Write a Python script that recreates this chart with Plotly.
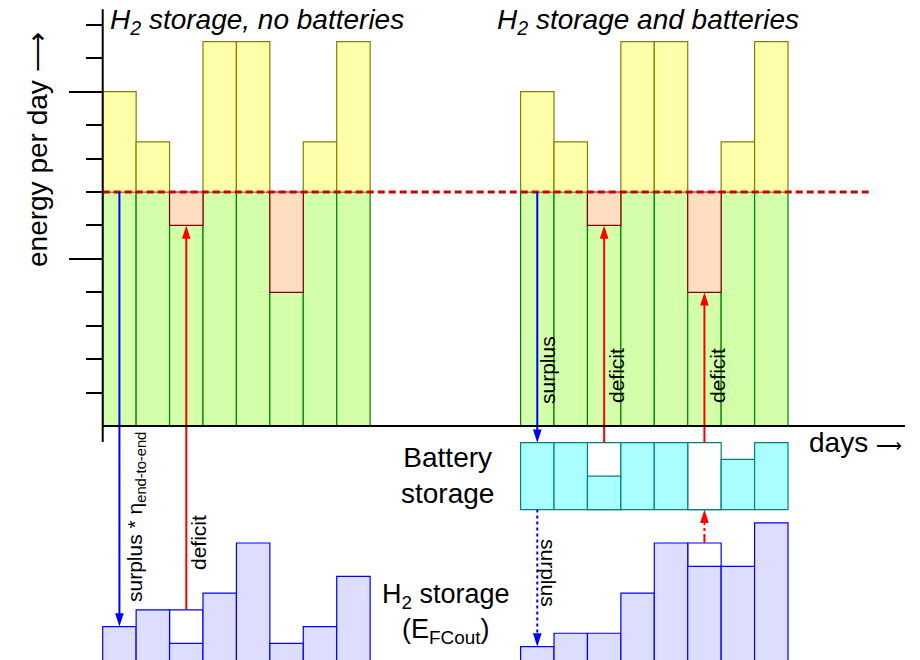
import plotly.graph_objects as go

# ---------------- data ----------------
days = [1, 2, 3, 4, 5, 6, 7, 8]
supply = [10, 8.5, 6, 11.5, 11.5, 4, 8.5, 11.5]          # energy produced per day
demand = 7                                                # energy needed per day
right_offset = 12.5                                       # second scenario starts here (days axis)
battery_top = -0.5
battery_capacity = 2
battery_level = [2, 2, 1, 2, 2, 0, 1.5, 2]
battery_prev = [None, None, 2, None, None, 2, None, None]
h2_floor = -8
h2_no_batt = [2, 2.5, 1.5, 3, 4.5, 1.5, 2, 3.5]
h2_no_batt_prev = [None, None, 2.5, None, None, None, None, None]
h2_batt = [1.4, 1.8, 1.8, 3.0, 4.5, 3.8, 3.8, 5.1]
h2_batt_prev = [None, None, None, None, None, 4.5, None, None]
y_minor_ticks = [1, 2, 3, 4, 6, 7, 8, 9, 11, 12]
y_major_ticks = [5, 10]

# ---------------- geometry / style ----------------
W, H = 920, 660
X0, Y0, U = 102.7, 426.0, 33.43
xr = [-X0 / U, (W - X0) / U]
yr = [-(H - Y0) / U, Y0 / U]
FONT = "Liberation Sans, Arial, sans-serif"

GREEN, GREEN_L = "#D4FFAA", "#008000"
YEL, YEL_L = "#FFFFAA", "#808000"
SAL, SAL_L = "#FFDDC0", "#800000"
CYAN, CYAN_L = "#AAFFFF", "#008080"
LAV, LAV_L = "#DDDDFF", "#0000FF"
RED, BLUE = "#FF0000", "#0000FF"

fig = go.Figure()


def bar(xs, hs, bases, fill, line):
    fig.add_trace(go.Bar(x=xs, y=hs, base=bases, width=1,
                         marker=dict(color=fill, line=dict(color=line, width=1.2)),
                         showlegend=False, hoverinfo="skip"))


def centers(offset):
    return [offset + d - 0.5 for d in days]


for off in (0, right_offset):
    xs = centers(off)
    bar(xs, [min(s, demand) for s in supply], [0] * len(days), GREEN, GREEN_L)
    sx = [x for x, s in zip(xs, supply) if s > demand]
    bar(sx, [s - demand for s in supply if s > demand], [demand] * len(sx), YEL, YEL_L)
    dx = [x for x, s in zip(xs, supply) if s < demand]
    bar(dx, [demand - s for s in supply if s < demand], [s for s in supply if s < demand], SAL, SAL_L)

# battery storage (right scenario)
xs = centers(right_offset)
bx = [x for x, p in zip(xs, battery_prev) if p is not None]
bar(bx, [p for p in battery_prev if p is not None], [battery_top - battery_capacity] * len(bx), "white", CYAN_L)
bar(xs, battery_level, [battery_top - battery_capacity] * len(days), CYAN, CYAN_L)

# H2 storage
for off, lev, prev in ((0, h2_no_batt, h2_no_batt_prev), (right_offset, h2_batt, h2_batt_prev)):
    xs = centers(off)
    px_ = [x for x, p in zip(xs, prev) if p is not None]
    bar(px_, [p for p in prev if p is not None], [h2_floor] * len(px_), "white", LAV_L)
    bar(xs, lev, [h2_floor] * len(xs), LAV, LAV_L)

# demand line
fig.add_trace(go.Scatter(x=[0, 23], y=[demand, demand], mode="lines",
                         line=dict(color="#CC0000", width=3, dash="7px,4px"),
                         showlegend=False, hoverinfo="skip"))


def arrow(x, y_from, y_to, color, dash="solid"):
    d = 1 if y_to > y_from else -1
    fig.add_trace(go.Scatter(x=[x, x], y=[y_from, y_to - d * 0.2], mode="lines",
                             line=dict(color=color, width=2, dash=dash),
                             showlegend=False, hoverinfo="skip"))
    fig.add_trace(go.Scatter(x=[x], y=[y_to], mode="markers",
                             marker=dict(symbol="arrow", size=14, angle=0 if d > 0 else 180,
                                         color=color, line=dict(width=0)),
                             showlegend=False, hoverinfo="skip"))


lx = centers(0)
rx = centers(right_offset)
# no batteries
arrow(lx[0], demand, h2_floor + h2_no_batt[0], BLUE)
arrow(lx[2], h2_floor + h2_no_batt_prev[2], supply[2], RED)
# with batteries
arrow(rx[0], demand, battery_top, BLUE)
for i, s in enumerate(supply):
    if s < demand:
        arrow(rx[i], battery_top, s, RED)
arrow(rx[0], battery_top - battery_capacity, h2_floor + h2_batt[0], BLUE, "dot")
arrow(rx[5], h2_floor + h2_batt_prev[5], battery_top - battery_capacity, RED, "dashdot")

# axis lines
fig.add_shape(type="line", x0=0, x1=0, y0=-0.48, y1=12.47, xref="x", yref="y",
              line=dict(color="black", width=2), layer="above")
fig.add_shape(type="line", x0=0, x1=24.0, y0=0, y1=0, xref="x", yref="y",
              line=dict(color="black", width=2), layer="above")


def ann(text, xpx, ypx, size, angle=0, xanchor="center", yanchor="middle"):
    fig.add_annotation(text=text, x=xpx / W, y=1 - ypx / H, xref="paper", yref="paper",
                       showarrow=False, textangle=angle, xanchor=xanchor, yanchor=yanchor,
                       font=dict(size=size, color="black", family=FONT))


ann("<i>H<sub>2</sub> storage, no batteries</i>", 108, 21, 28, xanchor="left")
ann("<i>H<sub>2</sub> storage and batteries</i>", 495, 21, 28, xanchor="left")
ann("energy per day ⟶", 37, 150, 28, angle=-90)
ann("days <span style='font-size:18px'>⟶</span>", 807, 442, 28, xanchor="left")
ann("Battery<br>storage", 447, 475, 28)
ann("H<sub>2</sub> storage<br>(E<sub>FCout</sub>)", 446, 613, 27)
ann("surplus * η<sub>end-to-end</sub>", 136, 517, 21, angle=-90)
ann("deficit", 198, 543, 21, angle=-90)
ann("surplus", 548, 370, 21, angle=-90)
ann("deficit", 616, 376, 21, angle=-90)
ann("deficit", 717, 376, 21, angle=-90)
ann("surplus", 549, 573, 21, angle=90)

fig.update_layout(
    width=W, height=H, margin=dict(l=0, r=0, t=0, b=0),
    paper_bgcolor="white", plot_bgcolor="white",
    barmode="overlay", showlegend=False,
    xaxis=dict(range=xr, visible=False, fixedrange=True),
    yaxis=dict(range=yr, showgrid=False, zeroline=False, showline=False,
               showticklabels=False, anchor="free", position=X0 / W,
               tickmode="array", tickvals=y_major_ticks, ticks="outside",
               ticklen=34, tickwidth=2, tickcolor="black",
               minor=dict(tickmode="array", tickvals=y_minor_ticks, ticks="outside",
                          ticklen=17, tickwidth=2, tickcolor="black"),
               fixedrange=True),
)

fig.write_html("out.html", config={"displayModeBar": False},
               post_script="document.body.style.margin='0';")
